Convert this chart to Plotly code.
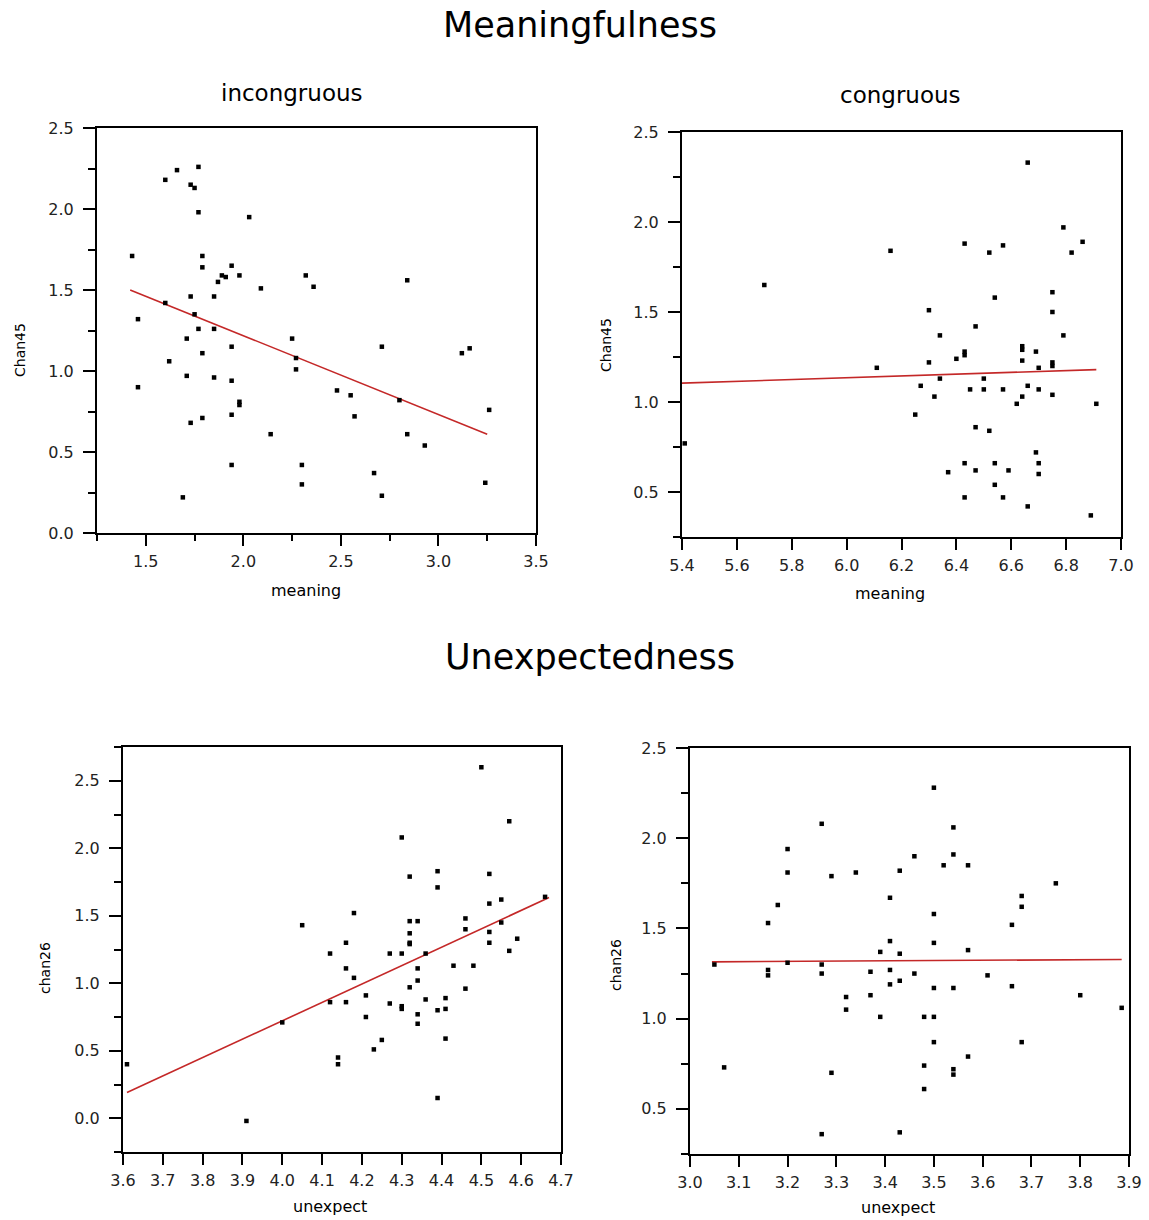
import plotly.graph_objects as go

W, H = 1149, 1220

# ---------------- data ----------------
# Meaningfulness - incongruous
inc_meaning = [1.43, 1.60, 1.66, 1.77, 1.73, 1.75, 1.77, 2.03, 1.79, 1.79,
               1.94, 1.89, 1.91, 1.87, 1.98, 2.09, 2.32, 2.36, 2.84, 1.73,
               1.85, 1.60, 1.46, 1.75, 1.77, 1.85, 1.71, 2.25, 1.94, 2.71,
               1.79, 1.62, 3.12, 3.16, 2.27, 2.27, 1.71, 1.85, 1.94, 1.46,
               2.48, 2.55, 2.80, 1.98, 1.98, 3.26, 2.57, 1.94, 1.79, 1.73,
               2.14, 2.84, 2.93, 1.94, 2.30, 2.67, 2.30, 3.24, 1.69, 2.71]
inc_chan45 = [1.71, 2.18, 2.24, 2.26, 2.15, 2.13, 1.98, 1.95, 1.71, 1.64,
              1.65, 1.59, 1.58, 1.55, 1.59, 1.51, 1.59, 1.52, 1.56, 1.46,
              1.46, 1.42, 1.32, 1.35, 1.26, 1.26, 1.20, 1.20, 1.15, 1.15,
              1.11, 1.06, 1.11, 1.14, 1.08, 1.01, 0.97, 0.96, 0.94, 0.90,
              0.88, 0.85, 0.82, 0.81, 0.79, 0.76, 0.72, 0.73, 0.71, 0.68,
              0.61, 0.61, 0.54, 0.42, 0.42, 0.37, 0.30, 0.31, 0.22, 0.23]
inc_fit_x = [1.42, 3.25]
inc_fit_y = [1.50, 0.61]

# Meaningfulness - congruous
con_meaning = [5.41, 5.70, 6.16, 6.11, 6.25, 6.27, 6.30, 6.30, 6.32, 6.34,
               6.34, 6.37, 6.40, 6.43, 6.43, 6.43, 6.43, 6.43, 6.45, 6.47,
               6.47, 6.47, 6.50, 6.50, 6.52, 6.52, 6.54, 6.54, 6.54, 6.57,
               6.57, 6.57, 6.59, 6.62, 6.64, 6.64, 6.64, 6.64, 6.66, 6.66,
               6.66, 6.69, 6.69, 6.70, 6.70, 6.70, 6.70, 6.75, 6.75, 6.75,
               6.75, 6.75, 6.79, 6.79, 6.82, 6.86, 6.89, 6.91]
con_chan45 = [0.77, 1.65, 1.84, 1.19, 0.93, 1.09, 1.51, 1.22, 1.03, 1.37,
              1.13, 0.61, 1.24, 1.88, 1.28, 1.26, 0.66, 0.47, 1.07, 1.42,
              0.86, 0.62, 1.13, 1.07, 1.83, 0.84, 1.58, 0.66, 0.54, 1.87,
              1.07, 0.47, 0.62, 0.99, 1.31, 1.29, 1.23, 1.03, 2.33, 1.09,
              0.42, 1.28, 0.72, 1.19, 1.07, 0.66, 0.60, 1.61, 1.50, 1.22,
              1.20, 1.04, 1.97, 1.37, 1.83, 1.89, 0.37, 0.99]
con_fit_x = [5.40, 6.91]
con_fit_y = [1.105, 1.18]

# Unexpectedness - left
unl_unexpect = [3.61, 3.91, 4.00, 4.05, 4.12, 4.12, 4.14, 4.14, 4.16, 4.16,
                4.16, 4.18, 4.18, 4.21, 4.21, 4.23, 4.25, 4.27, 4.27, 4.30,
                4.30, 4.30, 4.30, 4.32, 4.32, 4.32, 4.32, 4.32, 4.32, 4.34,
                4.34, 4.34, 4.34, 4.34, 4.36, 4.36, 4.39, 4.39, 4.39, 4.39,
                4.41, 4.41, 4.41, 4.43, 4.46, 4.46, 4.46, 4.48, 4.50, 4.52,
                4.52, 4.52, 4.52, 4.55, 4.55, 4.57, 4.57, 4.59, 4.66]
unl_chan26 = [0.40, -0.02, 0.71, 1.43, 1.22, 0.86, 0.45, 0.40, 1.30, 1.11,
              0.86, 1.52, 1.04, 0.91, 0.75, 0.51, 0.58, 1.22, 0.85, 2.08,
              1.22, 0.83, 0.81, 1.79, 1.46, 1.37, 1.30, 1.29, 0.97, 1.46,
              1.11, 1.02, 0.77, 0.70, 1.22, 0.88, 1.83, 1.71, 0.80, 0.15,
              0.89, 0.81, 0.59, 1.13, 1.48, 1.40, 0.96, 1.13, 2.60, 1.81,
              1.59, 1.38, 1.30, 1.62, 1.45, 2.20, 1.24, 1.33, 1.64]
unl_fit_x = [3.61, 4.67]
unl_fit_y = [0.19, 1.635]

# Unexpectedness - right
unr_unexpect = [3.05, 3.07, 3.16, 3.16, 3.16, 3.18, 3.20, 3.20, 3.20, 3.27,
                3.27, 3.27, 3.27, 3.29, 3.29, 3.32, 3.32, 3.34, 3.37, 3.37,
                3.39, 3.39, 3.41, 3.41, 3.41, 3.41, 3.43, 3.43, 3.43, 3.43,
                3.46, 3.46, 3.48, 3.48, 3.48, 3.50, 3.50, 3.50, 3.50, 3.50,
                3.50, 3.52, 3.54, 3.54, 3.54, 3.54, 3.54, 3.57, 3.57, 3.57,
                3.61, 3.66, 3.66, 3.68, 3.68, 3.68, 3.75, 3.80, 3.885]
unr_chan26 = [1.30, 0.73, 1.53, 1.27, 1.24, 1.63, 1.94, 1.81, 1.31, 2.08,
              1.30, 1.25, 0.36, 1.79, 0.70, 1.12, 1.05, 1.81, 1.26, 1.13,
              1.37, 1.01, 1.67, 1.43, 1.27, 1.19, 1.82, 1.36, 1.21, 0.37,
              1.90, 1.25, 1.01, 0.74, 0.61, 2.28, 1.58, 1.42, 1.17, 1.01,
              0.87, 1.85, 2.06, 1.91, 1.17, 0.72, 0.69, 1.85, 1.38, 0.79,
              1.24, 1.52, 1.18, 1.68, 1.62, 0.87, 1.75, 1.13, 1.06]
unr_fit_x = [3.045, 3.885]
unr_fit_y = [1.315, 1.328]

# ---------------- layout helpers ----------------
def px(x):
    return x / W

def py(y):
    return 1 - y / H

FONT = "DejaVu Sans"
RED = "rgb(196,40,40)"

fig = go.Figure()

panels = [
    (inc_meaning, inc_chan45, inc_fit_x, inc_fit_y, "x", "y"),
    (con_meaning, con_chan45, con_fit_x, con_fit_y, "x2", "y2"),
    (unl_unexpect, unl_chan26, unl_fit_x, unl_fit_y, "x3", "y3"),
    (unr_unexpect, unr_chan26, unr_fit_x, unr_fit_y, "x4", "y4"),
]
for xs, ys, fx, fy, xa, ya in panels:
    fig.add_trace(go.Scatter(x=fx, y=fy, mode="lines", xaxis=xa, yaxis=ya,
                             line=dict(color=RED, width=1.6), showlegend=False,
                             hoverinfo="skip"))
    fig.add_trace(go.Scatter(x=xs, y=ys, mode="markers", xaxis=xa, yaxis=ya,
                             marker=dict(symbol="square", size=4.5, color="black",
                                         line=dict(width=0)),
                             cliponaxis=False, showlegend=False))


def xaxis(dom, rng, dtick, minor_dtick, anchor, fmt):
    d = dict(domain=dom, range=rng, anchor=anchor, showgrid=False, zeroline=False,
             automargin=False,
             showline=True, linecolor="black", linewidth=2, mirror=True,
             ticks="outside", ticklen=11, tickwidth=2, tickcolor="black",
             tick0=0, dtick=dtick, tickformat=fmt, ticklabelstandoff=2,
             tickfont=dict(family=FONT, size=16, color="#222"))
    if minor_dtick:
        d["minor"] = dict(dtick=minor_dtick, ticks="outside", ticklen=6,
                          tickwidth=2, tickcolor="black", showgrid=False)
    return d


def yaxis(dom, rng, anchor):
    return dict(domain=dom, range=rng, anchor=anchor, showgrid=False, zeroline=False,
                automargin=False,
                showline=True, linecolor="black", linewidth=2, mirror=True,
                ticks="outside", ticklen=12, tickwidth=2, tickcolor="black",
                tick0=0, dtick=0.5, tickformat=".1f", ticklabelstandoff=6,
                tickfont=dict(family=FONT, size=16, color="#222"),
                minor=dict(dtick=0.25, ticks="outside", ticklen=7, tickwidth=2,
                           tickcolor="black", showgrid=False))


fig.update_layout(
    width=W, height=H, margin=dict(l=0, r=0, t=0, b=0, pad=0),
    paper_bgcolor="white", plot_bgcolor="white",
    xaxis=xaxis([px(97), px(536)], [1.25, 3.5], 0.5, 0.25, "y", ".1f"),
    yaxis=yaxis([py(533), py(128)], [0, 2.5], "x"),
    xaxis2=xaxis([px(682), px(1121)], [5.4, 7.0], 0.2, None, "y2", ".1f"),
    yaxis2=yaxis([py(537), py(132)], [0.25, 2.5], "x2"),
    xaxis3=xaxis([px(123), px(561)], [3.6, 4.7], 0.1, None, "y3", ".1f"),
    yaxis3=yaxis([py(1152), py(747)], [-0.25, 2.75], "x3"),
    xaxis4=xaxis([px(690), px(1129)], [3.0, 3.9], 0.1, None, "y4", ".1f"),
    yaxis4=yaxis([py(1154), py(748)], [0.25, 2.5], "x4"),
)

texts = [
    ("Meaningfulness", 580, 25, 35, 0),
    ("incongruous", 292, 93, 23, 0),
    ("congruous", 900, 95, 23, 0),
    ("Unexpectedness", 590, 657, 35, 0),
    ("meaning", 306, 590, 16, 0),
    ("meaning", 890, 594, 16, 0),
    ("unexpect", 330, 1206, 16, 0),
    ("unexpect", 898, 1207, 16, 0),
    ("Chan45", 20, 350, 14, -90),
    ("Chan45", 606, 345, 14, -90),
    ("chan26", 45, 968, 14, -90),
    ("chan26", 616, 965, 14, -90),
]
for t, x, y, s, ang in texts:
    fig.add_annotation(text=t, x=px(x), y=py(y), xref="paper", yref="paper",
                       showarrow=False, textangle=ang, xanchor="center",
                       yanchor="middle", font=dict(family=FONT, size=s, color="black"))

fig.write_html(
    "out.html",
    config={"displayModeBar": False},
    post_script="document.body.style.margin='0px';"
                "document.documentElement.style.overflow='hidden';",
)
